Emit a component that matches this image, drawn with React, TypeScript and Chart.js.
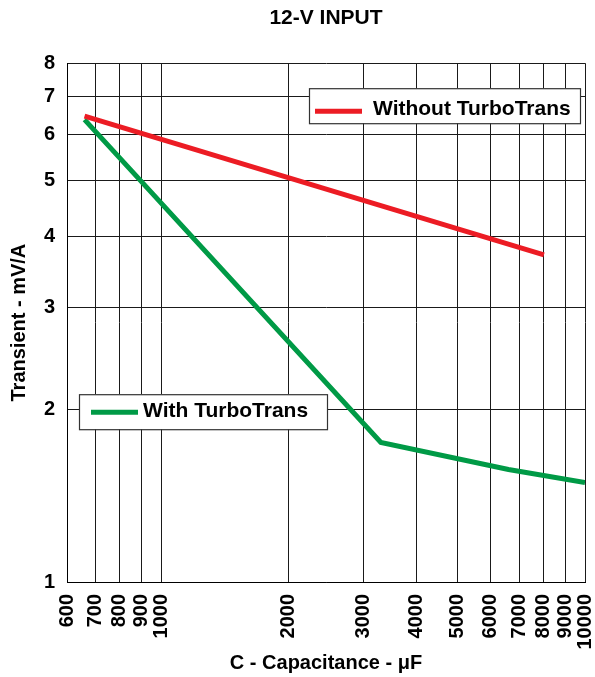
import React, { useEffect, useRef } from 'react';
import { Chart, registerables } from 'chart.js';

Chart.register(...registerables);

const xTicks = [600, 700, 800, 900, 1000, 2000, 3000, 4000, 5000, 6000, 7000, 8000, 9000, 10000];
const yTicks = [1, 2, 3, 4, 5, 6, 7, 8];

const withoutX = [660, 8000];
const withoutY = [6.47, 3.71];
const withX = [660, 3300, 6600, 10000];
const withY = [6.38, 1.75, 1.57, 1.49];

const seriesLabels = ['Without TurboTrans', 'With TurboTrans'];
const seriesColors = ['#ec1c24', '#009a46'];

const titleText = '12-V INPUT';
const xTitle = 'C - Capacitance - \u03bcF';
const yTitle = 'Transient - mV/A';

const FONT = "'Liberation Sans', Arial, Helvetica, sans-serif";

const boxLegendPlugin = {
  id: 'boxLegend',
  afterDraw(chart: any, _args: any, opts: any) {
    const ctx = chart.ctx;
    const area = chart.chartArea;
    ctx.save();
    (opts.items || []).forEach((item: any) => {
      const ds = chart.data.datasets[item.dataset];
      const x = item.fromRight != null ? area.right - item.fromRight - item.width : area.left + item.fromLeft;
      const y = area.top + item.top;
      ctx.fillStyle = '#ffffff';
      ctx.fillRect(x, y, item.width, item.height);
      ctx.strokeStyle = '#333333';
      ctx.lineWidth = 1.2;
      ctx.strokeRect(x + 0.5, y + 0.5, item.width, item.height);
      ctx.strokeStyle = ds.borderColor;
      ctx.lineWidth = 5;
      ctx.beginPath();
      ctx.moveTo(x + item.lineStart, y + item.lineY);
      ctx.lineTo(x + item.lineEnd, y + item.lineY);
      ctx.stroke();
      ctx.fillStyle = '#000000';
      ctx.font = `bold 21px ${FONT}`;
      ctx.textAlign = 'left';
      ctx.textBaseline = 'middle';
      ctx.fillText(ds.label, x + item.textX, y + item.textY);
    });
    ctx.restore();
  },
};

export default function App() {
  const canvasRef = useRef<HTMLCanvasElement | null>(null);

  useEffect(() => {
    if (!canvasRef.current) return;
    const tickFont = { family: FONT, size: 20, weight: 'bold' as const };
    const chart = new Chart(canvasRef.current, {
      type: 'line',
      data: {
        datasets: [
          {
            label: seriesLabels[0],
            data: withoutX.map((x, i) => ({ x, y: withoutY[i] })),
            borderColor: seriesColors[0],
            backgroundColor: seriesColors[0],
            borderWidth: 5,
            pointRadius: 0,
            tension: 0,
          },
          {
            label: seriesLabels[1],
            data: withX.map((x, i) => ({ x, y: withY[i] })),
            borderColor: seriesColors[1],
            backgroundColor: seriesColors[1],
            borderWidth: 5,
            pointRadius: 0,
            tension: 0,
          },
        ],
      },
      options: {
        responsive: false,
        animation: false,
        devicePixelRatio: 1,
        layout: { padding: { left: 0, right: 10, top: 0, bottom: 0 } },
        plugins: {
          legend: { display: false },
          tooltip: { enabled: false },
          title: {
            display: true,
            text: titleText,
            fullSize: false,
            color: '#000',
            font: { family: FONT, size: 21, weight: 'bold' },
            padding: { top: 6, bottom: 32 },
          },
          boxLegend: {
            items: [
              { dataset: 0, fromRight: 5, top: 25, width: 271, height: 35, lineStart: 6, lineEnd: 53, lineY: 23, textX: 64, textY: 21 },
              { dataset: 1, fromLeft: 12, top: 331, width: 248, height: 35, lineStart: 12, lineEnd: 59, lineY: 18, textX: 64, textY: 17 },
            ],
          },
        } as any,
        scales: {
          x: {
            type: 'logarithmic',
            position: 'bottom',
            min: 600,
            max: 10000,
            afterBuildTicks: (scale: any) => {
              scale.ticks = xTicks.map((v) => ({ value: v }));
            },
            afterFit: (scale: any) => {
              scale.height = 95;
              scale.paddingLeft = 0;
              scale.paddingRight = 0;
            },
            ticks: {
              autoSkip: false,
              maxRotation: 90,
              minRotation: 90,
              padding: 12,
              color: '#000',
              font: tickFont,
              callback: (v: any) => String(v),
            },
            grid: { color: '#1a1a1a', lineWidth: 1, drawTicks: false },
            border: { color: '#000', width: 1 },
            title: {
              display: true,
              text: xTitle,
              color: '#000',
              font: { family: FONT, size: 20, weight: 'bold' },
              padding: { top: 0, bottom: 2 },
            },
          },
          y: {
            type: 'logarithmic',
            position: 'left',
            min: 1,
            max: 8,
            afterBuildTicks: (scale: any) => {
              scale.ticks = yTicks.map((v) => ({ value: v }));
            },
            afterFit: (scale: any) => {
              scale.width = 67;
              scale.paddingTop = 0;
              scale.paddingBottom = 0;
            },
            ticks: {
              padding: 12,
              color: '#000',
              font: tickFont,
              callback: (v: any) => String(v),
            },
            grid: { color: '#1a1a1a', lineWidth: 1, drawTicks: false },
            border: { color: '#000', width: 1 },
            title: {
              display: true,
              text: yTitle,
              color: '#000',
              font: { family: FONT, size: 20, weight: 'bold' },
              padding: { top: 7, bottom: 0 },
            },
          },
        },
      } as any,
      plugins: [boxLegendPlugin],
    });
    return () => chart.destroy();
  }, []);

  return (
    <div style={{ position: 'fixed', left: 0, top: 0, width: 595, height: 677, background: '#fff' }}>
      <canvas ref={canvasRef} width={595} height={677} style={{ display: 'block', width: 595, height: 677 }} />
    </div>
  );
}
